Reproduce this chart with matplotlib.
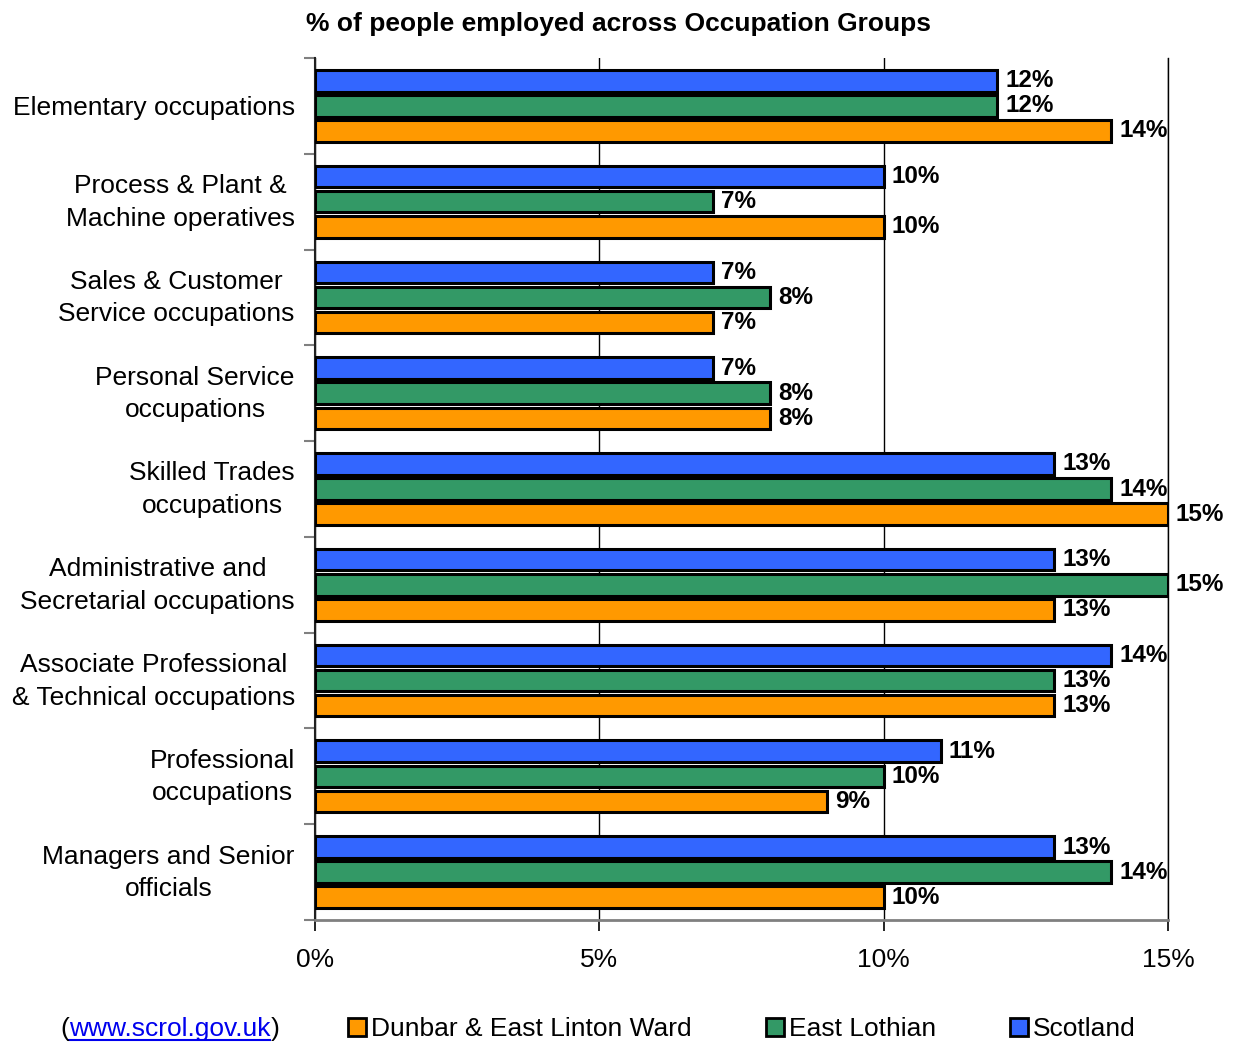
import numpy as np
import matplotlib.pyplot as plt
import matplotlib.transforms as mtransforms
from matplotlib.lines import Line2D
from matplotlib.patches import Patch

plt.rcParams['font.family'] = ['Liberation Sans', 'DejaVu Sans']

categories = ["Elementary occupations",
              "Process & Plant &\nMachine operatives",
              "Sales & Customer\nService occupations",
              "Personal Service\noccupations",
              "Skilled Trades\noccupations",
              "Administrative and\nSecretarial occupations",
              "Associate Professional\n& Technical occupations",
              "Professional\noccupations",
              "Managers and Senior\nofficials"]
scotland = [12, 10, 7, 7, 13, 13, 14, 11, 13]
east_lothian = [12, 7, 8, 8, 14, 15, 13, 10, 14]
dunbar = [14, 10, 7, 8, 15, 13, 13, 9, 10]
xticks = [0, 5, 10, 15]

series = [("Scotland", scotland, "#3366FF"),
          ("East Lothian", east_lothian, "#339966"),
          ("Dunbar & East Linton Ward", dunbar, "#FF9900")]

fig = plt.figure(figsize=(12.36, 10.43), dpi=100)
ax = fig.add_axes([315/1236, 1-920/1043, 853/1236, 862/1043])

y = np.arange(len(categories))
step = 0.262
h = 0.225
for i, (name, vals, col) in enumerate(series):
    pos = y + (i - 1) * step
    ax.barh(pos, vals, height=h, color=col, edgecolor="black", linewidth=2.2, zorder=3)
    for p, v in zip(pos, vals):
        ax.text(v + 0.14, p, f"{v}%", va="center", ha="left", fontsize=17.5,
                fontweight="bold", zorder=4)

ax.set_xlim(0, 15)
ax.set_ylim(len(categories) - 0.5, -0.5)
ax.set_xticks(xticks)
ax.set_xticklabels([f"{t}%" for t in xticks], fontsize=19)
ax.tick_params(axis="x", direction="out", length=8, width=1.2, color="black", pad=12)
ax.set_yticks(y)
ax.set_yticklabels(categories, fontsize=19, multialignment="center", linespacing=1.45)
ax.tick_params(axis="y", which="major", length=0, pad=14.5)
shift = mtransforms.ScaledTranslation(0, 6/100, fig.dpi_scale_trans)
for lab in ax.get_yticklabels():
    if "\n" in lab.get_text():
        lab.set_transform(lab.get_transform() + shift)
ax.set_yticks(np.arange(len(categories) + 1) - 0.5, minor=True)
ax.tick_params(axis="y", which="minor", length=8, width=1.5, color="#808080")
ax.grid(axis="x", color="black", linewidth=1, zorder=0)
ax.axvline(15, color="black", linewidth=1, clip_on=False, zorder=0)
for s in ["top", "right"]:
    ax.spines[s].set_visible(False)
ax.spines["bottom"].set_color("#808080")
ax.spines["bottom"].set_linewidth(2)
ax.spines["left"].set_color("#202020")
ax.spines["left"].set_linewidth(1.5)

fig.text(618/1236, 1-24/1043, "% of people employed across Occupation Groups",
         ha="center", va="center", fontsize=19, fontweight="bold")

# source link
ly = 1 - 1029/1043
t1 = fig.text(60/1236, ly, "(", ha="left", va="center", fontsize=19)
t2 = ax.annotate("www.scrol.gov.uk", xy=(1, 0), xycoords=t1, ha="left", va="bottom",
                 fontsize=19, color="#0000EE", annotation_clip=False)
t3 = ax.annotate(")", xy=(1, 0), xycoords=t2, ha="left", va="bottom", fontsize=19,
                 annotation_clip=False)
fig.canvas.draw()
bb = t2.get_window_extent()
fig.add_artist(Line2D([bb.x0 / 1236, bb.x1 / 1236], [1-1040/1043, 1-1040/1043],
                      color="#0000EE", linewidth=1.5, transform=fig.transFigure))

handles = [Patch(facecolor=c, edgecolor="black", linewidth=2, label=n)
           for n, _, c in series[::-1]]
fig.legend(handles=handles, loc="center", bbox_to_anchor=(742/1236, ly), ncol=3,
           frameon=False, fontsize=19, handlelength=0.68, handleheight=0.68,
           handletextpad=0.2, columnspacing=2.8)

fig.savefig("out.png", dpi=100)
